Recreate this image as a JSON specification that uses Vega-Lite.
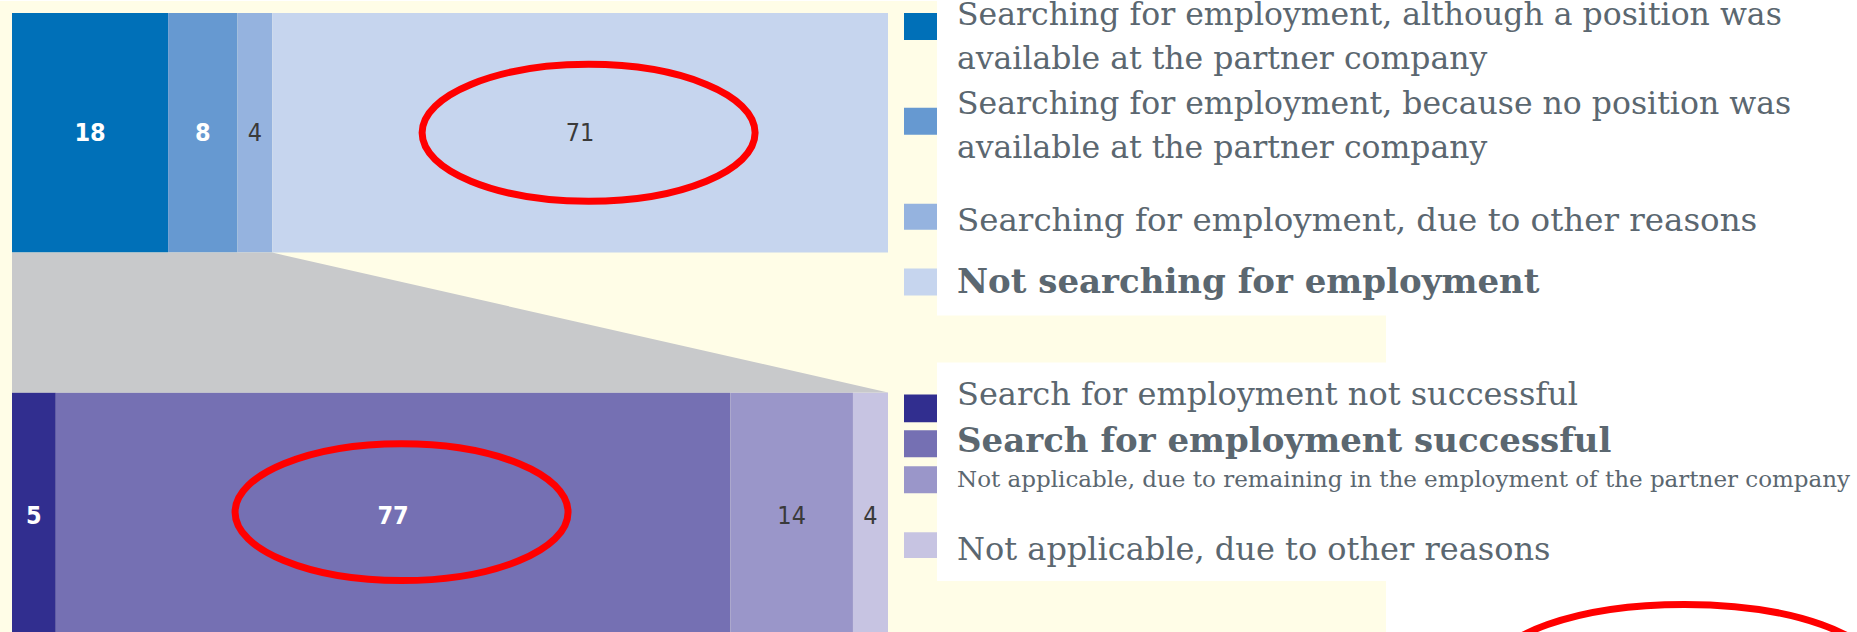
{
  "$schema": "https://vega.github.io/schema/vega-lite/v6.json",
  "width": 1857,
  "height": 632,
  "autosize": {"type": "fit", "contains": "padding"},
  "padding": 0,
  "background": "#ffffff",
  "config": {
    "view": {"stroke": null},
    "axis": {"disable": true},
    "legend": {"disable": true}
  },
  "resolve": {"scale": {"y": "independent"}},
  "layer": [
    {
      "layer": [
        {
          "data": {"values": [{"region": "chart background"}]},
          "mark": {"type": "rect", "color": "#fffde7"},
          "encoding": {
            "x": {"datum": -0.013699, "type": "quantitative", "scale": {"domain": [-0.013699, 2.106164], "nice": false, "zero": false}},
            "x2": {"datum": 1.56849},
            "y": {"datum": 0, "type": "quantitative", "scale": {"domain": [0, 100], "reverse": true, "nice": false, "zero": false}},
            "y2": {"datum": 100}
          }
        },
        {
          "data": {"values": [{"region": "status legend box"}]},
          "mark": {"type": "rect", "color": "#ffffff"},
          "encoding": {
            "x": {"datum": 1.055936},
            "x2": {"datum": 2.106164},
            "y": {"datum": 0},
            "y2": {"datum": 49.8418}
          }
        },
        {
          "data": {"values": [{"region": "outcome legend box"}]},
          "mark": {"type": "rect", "color": "#ffffff"},
          "encoding": {
            "x": {"datum": 1.055936},
            "x2": {"datum": 2.106164},
            "y": {"datum": 57.2785},
            "y2": {"datum": 91.9304}
          }
        }
      ]
    },
    {
      "data": {
        "values": [
          {"bar": "Searching status", "category": "Searching for employment, although a position was\navailable at the partner company", "value": 18, "order": 1},
          {"bar": "Searching status", "category": "Searching for employment, because no position was\navailable at the partner company", "value": 8, "order": 2},
          {"bar": "Searching status", "category": "Searching for employment, due to other reasons", "value": 4, "order": 3},
          {"bar": "Searching status", "category": "Not searching for employment", "value": 71, "order": 4},
          {"bar": "Search outcome", "category": "Search for employment not successful", "value": 5, "order": 1},
          {"bar": "Search outcome", "category": "Search for employment successful", "value": 77, "order": 2},
          {"bar": "Search outcome", "category": "Not applicable, due to remaining in the employment of the partner company", "value": 14, "order": 3},
          {"bar": "Search outcome", "category": "Not applicable, due to other reasons", "value": 4, "order": 4}
        ]
      },
      "layer": [
        {
          "mark": {"type": "bar"},
          "encoding": {
            "x": {"field": "value", "type": "quantitative", "stack": "normalize", "scale": {"domain": [-0.013699, 2.106164], "nice": false, "zero": false}},
            "y": {"field": "bar", "type": "nominal", "sort": null, "scale": {"domain": ["Searching status", "Search outcome"], "paddingInner": 0.368421, "paddingOuter": 0.0157895, "align": 1, "round": false}},
            "order": {"field": "order", "type": "quantitative"},
            "color": {
              "field": "category",
              "type": "nominal",
              "legend": null,
              "scale": {
                "domain": [
                  "Searching for employment, although a position was\navailable at the partner company",
                  "Searching for employment, because no position was\navailable at the partner company",
                  "Searching for employment, due to other reasons",
                  "Not searching for employment",
                  "Search for employment not successful",
                  "Search for employment successful",
                  "Not applicable, due to remaining in the employment of the partner company",
                  "Not applicable, due to other reasons"
                ],
                "range": ["#0070b8", "#6699d1", "#95b3df", "#c6d5ee", "#312e8f", "#7570b3", "#9a96c9", "#c7c4e2"]
              }
            }
          }
        },
        {
          "transform": [{"filter": "datum.bar === 'Searching status'"}],
          "mark": {"type": "text", "font": "Liberation Sans Narrow, DejaVu Sans Condensed, Roboto, sans-serif", "fontSize": 25, "fontWeight": "bold", "color": "#ffffff", "baseline": "middle", "align": "center", "dy": 0, "clip": true},
          "encoding": {
            "x": {"field": "value", "type": "quantitative", "stack": "normalize", "bandPosition": 0.5},
            "y": {"field": "bar", "type": "nominal", "sort": null},
            "detail": {"field": "category"},
            "order": {"field": "order", "type": "quantitative"},
            "text": {"field": "value", "type": "quantitative"},
            "opacity": {"condition": {"test": "datum.order <= 2", "value": 1}, "value": 0}
          }
        },
        {
          "transform": [{"filter": "datum.bar === 'Searching status'"}],
          "mark": {"type": "text", "font": "Liberation Sans Narrow, DejaVu Sans Condensed, Roboto, sans-serif", "fontSize": 25, "color": "#3a3a3a", "baseline": "middle", "align": "center", "dy": 0, "clip": true},
          "encoding": {
            "x": {"field": "value", "type": "quantitative", "stack": "normalize", "bandPosition": 0.5},
            "y": {"field": "bar", "type": "nominal", "sort": null},
            "detail": {"field": "category"},
            "order": {"field": "order", "type": "quantitative"},
            "text": {"field": "value", "type": "quantitative"},
            "opacity": {"condition": {"test": "datum.order > 2", "value": 1}, "value": 0}
          }
        },
        {
          "transform": [{"filter": "datum.bar === 'Search outcome'"}],
          "mark": {"type": "text", "font": "Liberation Sans Narrow, DejaVu Sans Condensed, Roboto, sans-serif", "fontSize": 25, "fontWeight": "bold", "color": "#ffffff", "baseline": "middle", "align": "center", "dy": 4, "clip": true},
          "encoding": {
            "x": {"field": "value", "type": "quantitative", "stack": "normalize", "bandPosition": 0.5},
            "y": {"field": "bar", "type": "nominal", "sort": null},
            "detail": {"field": "category"},
            "order": {"field": "order", "type": "quantitative"},
            "text": {"field": "value", "type": "quantitative"},
            "opacity": {"condition": {"test": "datum.order <= 2", "value": 1}, "value": 0}
          }
        },
        {
          "transform": [{"filter": "datum.bar === 'Search outcome'"}],
          "mark": {"type": "text", "font": "Liberation Sans Narrow, DejaVu Sans Condensed, Roboto, sans-serif", "fontSize": 25, "color": "#3a3a3a", "baseline": "middle", "align": "center", "dy": 4, "clip": true},
          "encoding": {
            "x": {"field": "value", "type": "quantitative", "stack": "normalize", "bandPosition": 0.5},
            "y": {"field": "bar", "type": "nominal", "sort": null},
            "detail": {"field": "category"},
            "order": {"field": "order", "type": "quantitative"},
            "text": {"field": "value", "type": "quantitative"},
            "opacity": {"condition": {"test": "datum.order > 2", "value": 1}, "value": 0}
          }
        },
        {
          "mark": {
            "type": "point",
            "shape": "M-1,0C-1,-0.227,-0.5523,-0.411,0,-0.411C0.5523,-0.411,1,-0.227,1,0C1,0.227,0.5523,0.411,0,0.411C-0.5523,0.411,-1,0.227,-1,0Z",
            "size": 110889,
            "filled": false,
            "color": "#ff0000",
            "strokeWidth": 7,
            "opacity": 1,
            "xOffset": 8.5,
            "clip": true
          },
          "encoding": {
            "x": {"field": "value", "type": "quantitative", "stack": "normalize", "bandPosition": 0.5},
            "y": {"field": "bar", "type": "nominal", "sort": null},
            "detail": {"field": "category"},
            "order": {"field": "order", "type": "quantitative"},
            "strokeOpacity": {"condition": {"test": "(datum.bar === 'Searching status' && datum.order === 4) || (datum.bar === 'Search outcome' && datum.order === 2)", "value": 1}, "value": 0}
          }
        }
      ]
    },
    {
      "data": {"values": [{"bar": "Searching status", "share": 0.29703}, {"bar": "Search outcome", "share": 1}]},
      "mark": {"type": "area", "color": "#c8c9cb", "orient": "horizontal"},
      "encoding": {
        "y": {"field": "share", "type": "quantitative", "scale": {"domain": [-0.96832, 2.20509], "reverse": true, "nice": false, "zero": false}},
        "x": {"field": "share", "type": "quantitative", "stack": null, "scale": {"domain": [-0.013699, 2.106164], "nice": false, "zero": false}},
        "x2": {"datum": 0}
      }
    },
    {
      "data": {
        "values": [
          {"bar": "Searching status", "category": "Searching for employment, although a position was\navailable at the partner company", "value": 18, "order": 1},
          {"bar": "Searching status", "category": "Searching for employment, because no position was\navailable at the partner company", "value": 8, "order": 2},
          {"bar": "Searching status", "category": "Searching for employment, due to other reasons", "value": 4, "order": 3},
          {"bar": "Searching status", "category": "Not searching for employment", "value": 71, "order": 4},
          {"bar": "Search outcome", "category": "Search for employment not successful", "value": 5, "order": 1},
          {"bar": "Search outcome", "category": "Search for employment successful", "value": 77, "order": 2},
          {"bar": "Search outcome", "category": "Not applicable, due to remaining in the employment of the partner company", "value": 14, "order": 3},
          {"bar": "Search outcome", "category": "Not applicable, due to other reasons", "value": 4, "order": 4}
        ]
      },
      "layer": [
        {
          "transform": [{"filter": "datum.bar === 'Searching status' && datum.order === 1"}],
          "mark": {"type": "rect"},
          "encoding": {
            "x": {"datum": 1.018265, "type": "quantitative", "scale": {"domain": [-0.013699, 2.106164], "nice": false, "zero": false}},
            "x2": {"datum": 1.055936},
            "y": {"datum": 1.8987, "type": "quantitative", "scale": {"domain": [0, 100], "reverse": true, "nice": false, "zero": false}},
            "y2": {"datum": 6.1709},
            "color": {"field": "category", "type": "nominal", "legend": null}
          }
        },
        {
          "transform": [{"filter": "datum.bar === 'Searching status' && datum.order === 2"}],
          "mark": {"type": "rect"},
          "encoding": {"x": {"datum": 1.018265}, "x2": {"datum": 1.055936}, "y": {"datum": 16.9304}, "y2": {"datum": 21.2025}, "color": {"field": "category", "type": "nominal", "legend": null}}
        },
        {
          "transform": [{"filter": "datum.bar === 'Searching status' && datum.order === 3"}],
          "mark": {"type": "rect"},
          "encoding": {"x": {"datum": 1.018265}, "x2": {"datum": 1.055936}, "y": {"datum": 32.1203}, "y2": {"datum": 36.2342}, "color": {"field": "category", "type": "nominal", "legend": null}}
        },
        {
          "transform": [{"filter": "datum.bar === 'Searching status' && datum.order === 4"}],
          "mark": {"type": "rect"},
          "encoding": {"x": {"datum": 1.018265}, "x2": {"datum": 1.055936}, "y": {"datum": 42.4051}, "y2": {"datum": 46.6772}, "color": {"field": "category", "type": "nominal", "legend": null}}
        },
        {
          "transform": [{"filter": "datum.bar === 'Search outcome' && datum.order === 1"}],
          "mark": {"type": "rect"},
          "encoding": {"x": {"datum": 1.018265}, "x2": {"datum": 1.055936}, "y": {"datum": 62.3418}, "y2": {"datum": 66.7722}, "color": {"field": "category", "type": "nominal", "legend": null}}
        },
        {
          "transform": [{"filter": "datum.bar === 'Search outcome' && datum.order === 2"}],
          "mark": {"type": "rect"},
          "encoding": {"x": {"datum": 1.018265}, "x2": {"datum": 1.055936}, "y": {"datum": 68.038}, "y2": {"datum": 72.3101}, "color": {"field": "category", "type": "nominal", "legend": null}}
        },
        {
          "transform": [{"filter": "datum.bar === 'Search outcome' && datum.order === 3"}],
          "mark": {"type": "rect"},
          "encoding": {"x": {"datum": 1.018265}, "x2": {"datum": 1.055936}, "y": {"datum": 73.7342}, "y2": {"datum": 78.0063}, "color": {"field": "category", "type": "nominal", "legend": null}}
        },
        {
          "transform": [{"filter": "datum.bar === 'Search outcome' && datum.order === 4"}],
          "mark": {"type": "rect"},
          "encoding": {"x": {"datum": 1.018265}, "x2": {"datum": 1.055936}, "y": {"datum": 84.1772}, "y2": {"datum": 88.2911}, "color": {"field": "category", "type": "nominal", "legend": null}}
        },
        {
          "transform": [{"filter": "datum.bar === 'Searching status' && datum.order === 1"}],
          "mark": {"type": "text", "align": "left", "baseline": "alphabetic", "font": "DejaVu Serif", "fontSize": 31.5, "lineHeight": 44, "lineBreak": "\n", "color": "#5b6770"},
          "encoding": {"x": {"datum": 1.078767}, "y": {"datum": 3.7975}, "text": {"field": "category"}}
        },
        {
          "transform": [{"filter": "datum.bar === 'Searching status' && datum.order === 2"}],
          "mark": {"type": "text", "align": "left", "baseline": "alphabetic", "font": "DejaVu Serif", "fontSize": 31.5, "lineHeight": 44, "lineBreak": "\n", "color": "#5b6770"},
          "encoding": {"x": {"datum": 1.078767}, "y": {"datum": 17.8797}, "text": {"field": "category"}}
        },
        {
          "transform": [{"filter": "datum.bar === 'Searching status' && datum.order === 3"}],
          "mark": {"type": "text", "align": "left", "baseline": "alphabetic", "font": "DejaVu Serif", "fontSize": 32.5, "color": "#5b6770"},
          "encoding": {"x": {"datum": 1.078767}, "y": {"datum": 36.3924}, "text": {"field": "category"}}
        },
        {
          "transform": [{"filter": "datum.bar === 'Searching status' && datum.order === 4"}],
          "mark": {"type": "text", "align": "left", "baseline": "alphabetic", "font": "DejaVu Serif", "fontSize": 34, "fontWeight": "bold", "color": "#5b6770"},
          "encoding": {"x": {"datum": 1.078767}, "y": {"datum": 46.2025}, "text": {"field": "category"}}
        },
        {
          "transform": [{"filter": "datum.bar === 'Search outcome' && datum.order === 1"}],
          "mark": {"type": "text", "align": "left", "baseline": "alphabetic", "font": "DejaVu Serif", "fontSize": 32, "color": "#5b6770"},
          "encoding": {"x": {"datum": 1.078767}, "y": {"datum": 64.0823}, "text": {"field": "category"}}
        },
        {
          "transform": [{"filter": "datum.bar === 'Search outcome' && datum.order === 2"}],
          "mark": {"type": "text", "align": "left", "baseline": "alphabetic", "font": "DejaVu Serif", "fontSize": 34, "fontWeight": "bold", "color": "#5b6770"},
          "encoding": {"x": {"datum": 1.078767}, "y": {"datum": 71.519}, "text": {"field": "category"}}
        },
        {
          "transform": [{"filter": "datum.bar === 'Search outcome' && datum.order === 3"}],
          "mark": {"type": "text", "align": "left", "baseline": "alphabetic", "font": "DejaVu Serif", "fontSize": 23, "color": "#5b6770"},
          "encoding": {"x": {"datum": 1.078767}, "y": {"datum": 77.057}, "text": {"field": "category"}}
        },
        {
          "transform": [{"filter": "datum.bar === 'Search outcome' && datum.order === 4"}],
          "mark": {"type": "text", "align": "left", "baseline": "alphabetic", "font": "DejaVu Serif", "fontSize": 32, "color": "#5b6770"},
          "encoding": {"x": {"datum": 1.078767}, "y": {"datum": 88.6076}, "text": {"field": "category"}}
        },
        {
          "data": {"values": [{"annotation": "highlight"}]},
          "mark": {
            "type": "point",
            "shape": "M-1,0C-1,-0.1955,-0.5523,-0.354,0,-0.354C0.5523,-0.354,1,-0.1955,1,0C1,0.1955,0.5523,0.354,0,0.354C-0.5523,0.354,-1,0.1955,-1,0Z",
            "size": 149769,
            "filled": false,
            "color": "#ff0000",
            "strokeWidth": 7,
            "opacity": 1,
            "clip": true
          },
          "encoding": {
            "x": {"datum": 1.90925},
            "y": {"datum": 106.4873}
          }
        }
      ]
    }
  ]
}
